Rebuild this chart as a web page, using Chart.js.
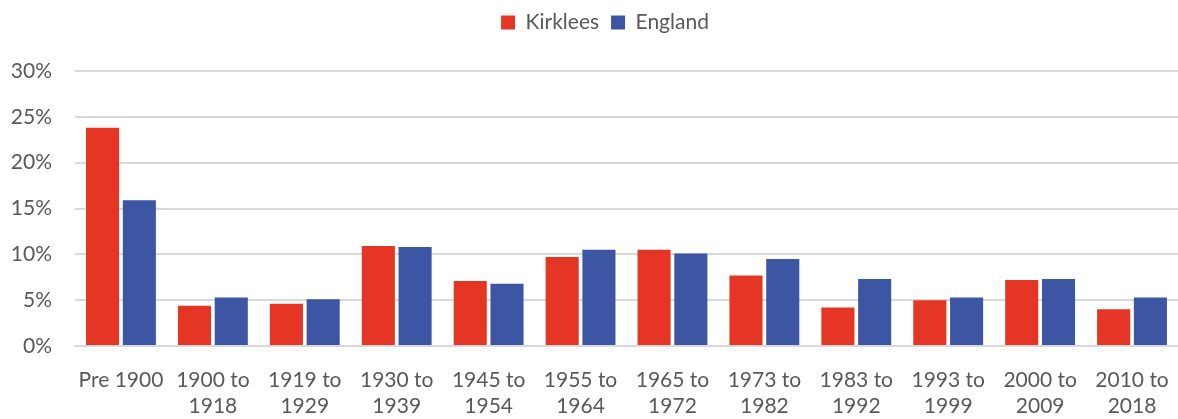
<!DOCTYPE html>
<html>
<head>
<meta charset="utf-8">
<script src="https://cdn.jsdelivr.net/npm/chart.js@4.4.1/dist/chart.umd.min.js"></script>
<style>
html,body{margin:0;padding:0;background:#fff;}
#wrap{width:1178px;height:419px;}
</style>
</head>
<body>
<div id="wrap"><canvas id="c" width="1178" height="419"></canvas></div>
<script>
const categories = [
  ['Pre 1900'], ['1900 to','1918'], ['1919 to','1929'], ['1930 to','1939'],
  ['1945 to','1954'], ['1955 to','1964'], ['1965 to','1972'], ['1973 to','1982'],
  ['1983 to','1992'], ['1993 to','1999'], ['2000 to','2009'], ['2010 to','2018']
];
const kirklees = [23.8, 4.4, 4.6, 10.9, 7.1, 9.7, 10.5, 7.7, 4.2, 5.0, 7.2, 4.0];
const england  = [15.9, 5.3, 5.1, 10.8, 6.8, 10.5, 10.1, 9.5, 7.3, 5.3, 7.3, 5.3];
const yTicks = [0, 5, 10, 15, 20, 25, 30];

const FONT = 'Lato, "Open Sans", sans-serif';
const TXT = '#595959';

const legendSpacer = {
  id: 'legendSpacer',
  beforeInit(chart) {
    const orig = chart.legend.fit;
    chart.legend.fit = function () {
      orig.call(this);
      this.height += 28;
    };
  },
  afterLayout(chart) {
    chart.legend.left += 16;
    chart.legend.right += 16;
  }
};

new Chart(document.getElementById('c'), {
  type: 'bar',
  plugins: [legendSpacer],
  data: {
    labels: categories,
    datasets: [
      { label: 'Kirklees', data: kirklees, backgroundColor: '#E53524', borderWidth: 0 },
      { label: 'England', data: england, backgroundColor: '#3C56A4', borderWidth: 0 }
    ]
  },
  options: {
    responsive: false,
    animation: false,
    layout: { padding: { left: 0, right: 0, top: 0, bottom: 0 } },
    plugins: {
      tooltip: { enabled: false },
      legend: {
        position: 'top',
        align: 'center',
        labels: {
          boxWidth: 14, boxHeight: 14, padding: 12,
          color: TXT,
          font: { family: FONT, size: 21 }
        }
      }
    },
    scales: {
      x: {
        grid: { display: false, drawTicks: false },
        border: { display: true, color: '#D9D9D9', width: 2 },
        categoryPercentage: 0.8,
        barPercentage: 1.0,
        afterFit: (scale) => {
          scale.height = 73;
          scale.paddingLeft = 0;
          scale.paddingRight = 0;
        },
        ticks: {
          color: TXT, maxRotation: 0, autoSkip: false, padding: 21,
          font: { family: FONT, size: 21, lineHeight: 1.25 }
        }
      },
      y: {
        min: 0, max: 30,
        afterBuildTicks: (axis) => { axis.ticks = yTicks.map(v => ({ value: v })); },
        afterFit: (scale) => { scale.width = 75; },
        grid: { color: '#D9D9D9', lineWidth: 2, drawTicks: false },
        border: { display: false },
        ticks: {
          color: TXT, padding: 23,
          font: { family: FONT, size: 21 },
          callback: (v) => v + '%'
        }
      }
    }
  }
});
</script>
</body>
</html>
